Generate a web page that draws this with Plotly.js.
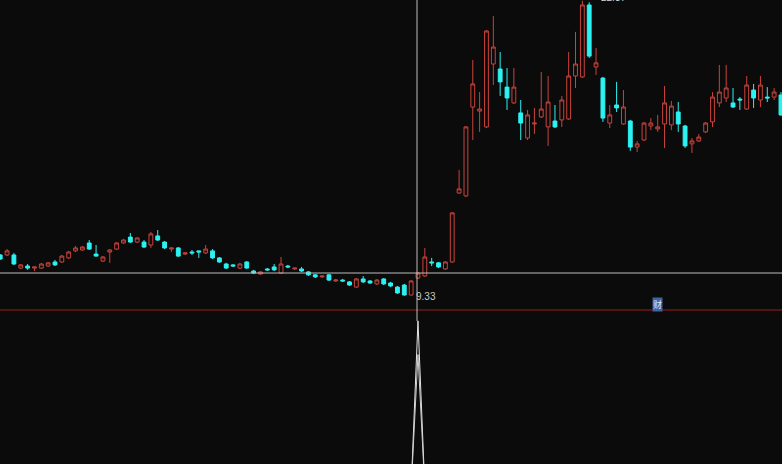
<!DOCTYPE html>
<html>
<head>
<meta charset="utf-8">
<script src="https://cdn.plot.ly/plotly-3.0.1.min.js"></script>
<style>
  html, body { margin: 0; padding: 0; background: #0b0b0b; }
  #chart { width: 782px; height: 464px; }
</style>
</head>
<body>
<div id="chart"></div>
<script>
// Daily candles (prices)
const open = [11.13,11.13,11.13,10.55,10.64,10.55,10.55,10.64,10.82,10.82,
11.00,11.31,11.35,11.66,11.17,10.86,11.26,11.39,11.66,11.92,
11.70,11.70,11.57,11.97,11.70,11.39,11.44,11.17,11.26,11.31,
11.22,11.31,11.00,10.73,10.69,10.55,10.82,10.42,10.29,10.51,
10.60,10.33,10.64,10.51,10.51,10.38,10.25,10.16,10.25,9.98,
10.02,9.94,9.71,10.07,9.98,9.85,10.07,9.89,9.71,9.80,
9.36,10.11,10.20,10.82,10.78,10.51,10.82,13.87,13.74,17.67,
17.49,16.79,19.57,19.35,18.55,17.85,17.41,16.30,16.92,17.23,
16.79,17.05,17.10,17.14,19.04,19.00,22.18,19.44,18.95,16.96,
17.76,16.92,17.05,15.90,16.21,16.83,16.70,16.92,16.88,17.45,
16.83,16.04,16.17,16.57,17.01,17.85,18.07,17.85,18.02,17.58,
18.42,17.98,18.11,18.11,18.20];
const high = [11.17,11.39,11.22,10.73,10.73,10.60,10.78,10.82,10.91,11.13,
11.31,11.53,11.53,11.79,11.57,11.08,11.39,11.70,11.84,12.10,
11.92,11.79,12.15,12.23,11.75,11.44,11.48,11.26,11.35,11.31,
11.57,11.39,11.04,10.78,10.73,10.78,10.86,10.47,10.42,10.55,
10.73,11.04,10.69,10.55,10.60,10.42,10.29,10.20,10.29,10.07,
10.07,9.98,10.11,10.20,10.02,10.07,10.11,9.94,9.76,9.85,
10.02,10.38,11.44,11.00,10.82,10.86,13.03,14.89,16.83,19.75,
18.33,21.07,21.69,20.10,19.39,19.39,17.98,17.54,17.63,19.22,
19.04,17.76,18.16,20.10,20.99,22.37,22.30,20.28,19.00,17.76,
18.78,18.42,17.10,16.17,17.01,17.18,17.32,18.60,17.94,17.89,
16.88,16.30,16.48,17.01,18.33,19.53,19.53,18.51,18.11,19.04,
18.69,19.04,18.55,18.51,18.33];
const low = [10.91,11.08,10.69,10.51,10.47,10.42,10.51,10.60,10.64,10.78,
10.95,11.26,11.31,11.35,11.06,10.82,10.78,11.35,11.62,11.66,
11.66,11.44,11.44,11.75,11.39,11.26,11.04,11.13,11.13,11.00,
11.17,10.95,10.78,10.51,10.60,10.51,10.51,10.29,10.25,10.42,
10.42,10.29,10.55,10.47,10.38,10.20,10.11,10.11,9.98,9.94,
9.94,9.76,9.67,9.89,9.85,9.80,9.80,9.71,9.41,9.33,
9.34,10.07,10.16,10.64,10.55,10.47,10.78,13.83,13.69,16.21,
16.57,16.74,18.64,18.16,17.54,17.80,16.21,16.21,16.48,17.18,
15.95,16.74,16.79,17.10,18.51,18.95,19.84,19.09,17.01,16.74,
17.45,16.88,15.73,15.68,16.17,16.65,16.57,15.86,16.65,16.57,
15.86,15.64,16.12,16.52,16.79,17.67,17.89,17.63,17.54,17.54,
17.63,17.67,17.89,17.98,17.27];
const close = [10.95,11.31,10.73,10.69,10.55,10.60,10.73,10.78,10.69,11.08,
11.26,11.44,11.48,11.39,11.08,11.04,11.35,11.66,11.79,11.70,
11.88,11.48,12.06,11.79,11.44,11.44,11.08,11.22,11.22,11.26,
11.39,11.00,10.82,10.55,10.64,10.73,10.55,10.33,10.38,10.47,
10.47,10.73,10.60,10.55,10.42,10.25,10.16,10.20,10.02,10.02,
9.98,9.80,10.07,9.94,9.89,10.02,9.85,9.76,9.45,9.36,
9.98,10.33,11.04,10.78,10.60,10.82,12.99,14.05,16.79,18.69,
17.58,21.03,20.32,18.78,18.07,18.55,16.96,17.32,16.96,17.58,
17.89,16.79,17.98,19.04,19.57,22.18,19.92,19.62,17.18,17.32,
17.63,17.67,15.90,16.04,16.96,16.96,16.79,17.85,17.71,16.92,
15.95,16.17,16.34,16.96,18.11,18.33,18.51,17.67,17.98,18.64,
18.07,18.64,18.07,18.33,17.32];

// lower indicator (spike)
const indDays = [0, 60, 61, 62, 114];
const indA = [0, 0, 100, 0, 0];
const indB = [0, 0, 80, 0, 0];

const lowLabel = "9.33";
const highLabel = "22.37";

const days = open.map((_, i) => i);

const RED = '#c9443c', CYAN = '#2cf2f2', BG = '#0b0b0b';

const traces = [
  {
    type: 'candlestick', x: days, open, high, low, close,
    xaxis: 'x', yaxis: 'y',
    increasing: { line: { color: RED, width: 1 }, fillcolor: BG },
    decreasing: { line: { color: CYAN, width: 1 }, fillcolor: CYAN },
    whiskerwidth: 0, hoverinfo: 'skip', showlegend: false
  },
  {
    type: 'scatter', mode: 'lines', x: indDays, y: indA, xaxis: 'x', yaxis: 'y2',
    line: { color: '#e6e6e6', width: 1 }, hoverinfo: 'skip', showlegend: false
  },
  {
    type: 'scatter', mode: 'lines', x: indDays, y: indB, xaxis: 'x', yaxis: 'y2',
    line: { color: '#d0d0d0', width: 1 }, hoverinfo: 'skip', showlegend: false
  }
];

const layout = {
  width: 782, height: 464,
  margin: { l: 0, r: 0, t: 0, b: 0 },
  paper_bgcolor: BG, plot_bgcolor: BG,
  showlegend: false,
  boxgap: 0.2,
  xaxis: { range: [-0.03, 114.15], visible: false, fixedrange: true,
           rangeslider: { visible: false } },
  yaxis: { domain: [0.334, 1], range: [8.74, 22.40], visible: false, fixedrange: true },
  yaxis2: { domain: [0, 0.332], range: [14.9, 106.5], visible: false, fixedrange: true },
  shapes: [
    { type: 'line', xref: 'paper', yref: 'paper', x0: 0, x1: 1, y0: 0.332, y1: 0.332,
      line: { color: '#6e1818', width: 1.5 } },
    { type: 'line', xref: 'paper', yref: 'paper', x0: 0, x1: 1,
      y0: 1 - 273/464, y1: 1 - 273/464, line: { color: '#bdbdbd', width: 1 } },
    { type: 'line', xref: 'paper', yref: 'paper', x0: 417/782, x1: 417/782,
      y0: 1 - 321/464, y1: 1, line: { color: '#bdbdbd', width: 1 } }
  ],
  annotations: [
    { xref: 'paper', yref: 'paper', x: 414/782, y: 1 - 296/464, xanchor: 'left', yanchor: 'middle',
      text: lowLabel, showarrow: false, font: { family: 'Arial, Liberation Sans', size: 10, color: '#c8c8c8' } },
    { xref: 'paper', yref: 'paper', x: 599/782, y: 1 + 3/464, xanchor: 'left', yanchor: 'middle',
      text: highLabel, showarrow: false, font: { family: 'Arial, Liberation Sans', size: 10, color: '#d8d8d8' } },
    { xref: 'paper', yref: 'paper', x: 657/782, y: 1 - 304/464, xanchor: 'center', yanchor: 'middle',
      text: '财', showarrow: false, bgcolor: '#3e64a8', borderpad: 0,
      font: { family: 'Noto Sans CJK SC', size: 9, color: '#dfe8ff' } }
  ]
};

Plotly.newPlot('chart', traces, layout, { displayModeBar: false, staticPlot: true });
</script>
</body>
</html>
